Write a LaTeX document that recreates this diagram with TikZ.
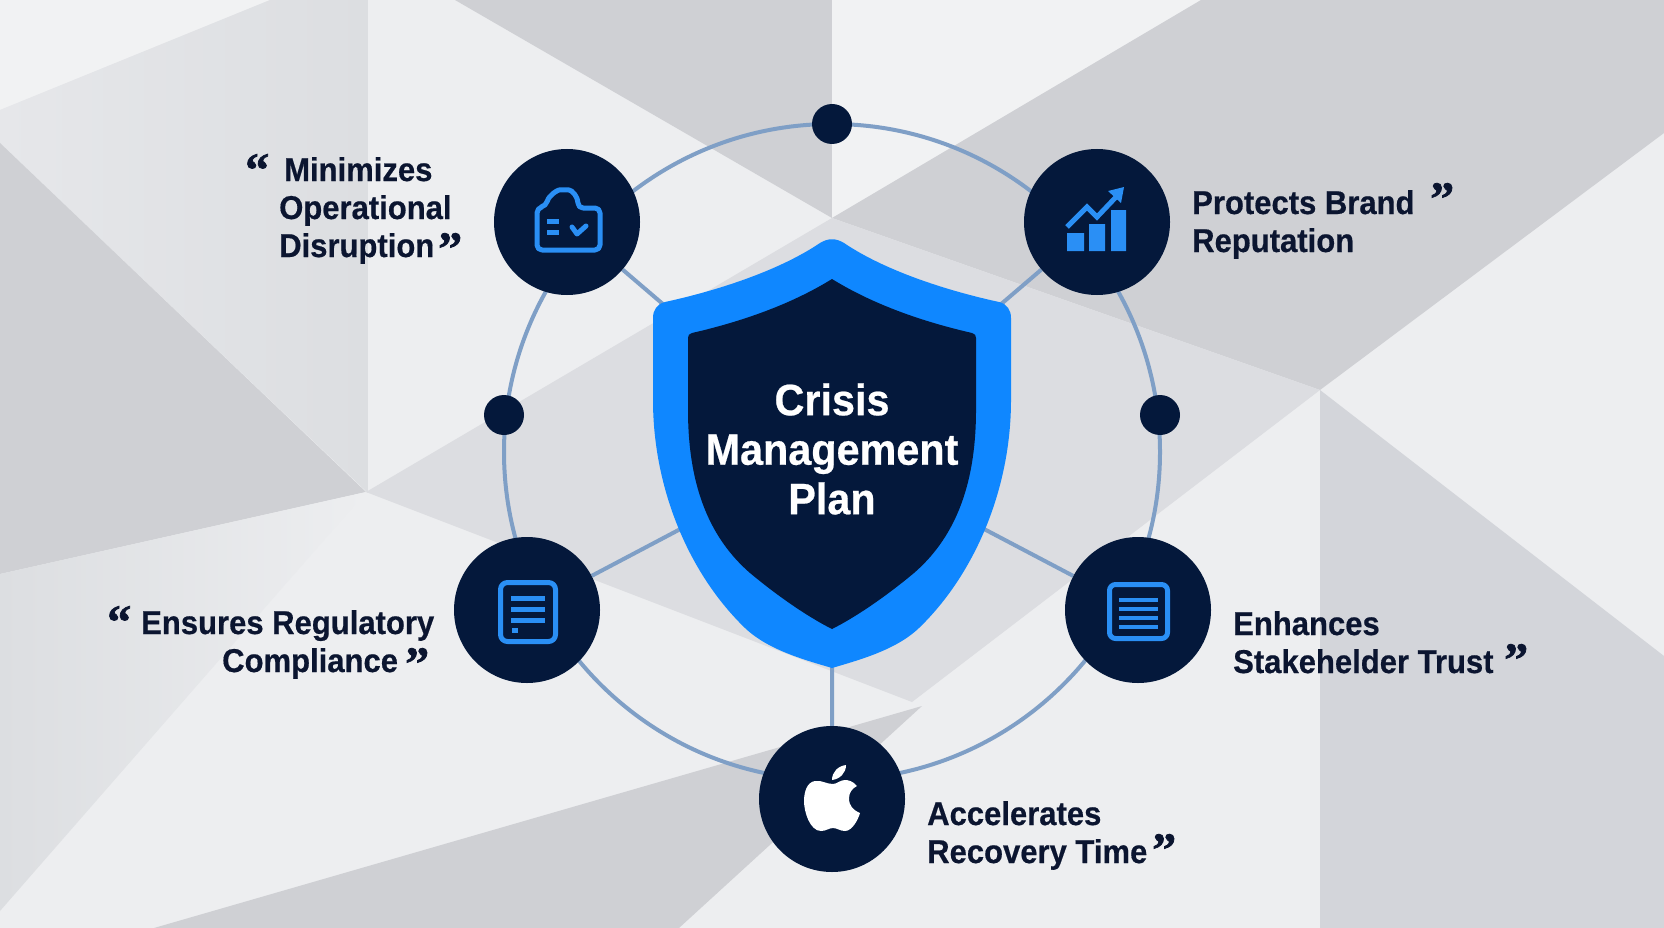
\documentclass[tikz,border=0pt]{standalone}
\usepackage{fontspec}
\setmainfont[FakeStretch=0.94,BoldFeatures={FakeBold=0.5}]{Liberation Sans}
\newfontfamily\quotefont[BoldFeatures={FakeBold=1.5}]{Liberation Serif}
\usetikzlibrary{backgrounds}
\definecolor{navy}{HTML}{04183B}
\definecolor{inktext}{HTML}{0B1530}
\definecolor{shieldblue}{HTML}{0F87FF}
\definecolor{iconblue}{HTML}{2A8FF5}
\definecolor{ringblue}{HTML}{7F9FC6}
\definecolor{facetbase}{HTML}{EDEEF0}
\definecolor{facetpale}{HTML}{F1F2F3}
\definecolor{facetsoft}{HTML}{E6E7EA}
\definecolor{facetsoftb}{HTML}{DCDEE1}
\definecolor{facetmid}{HTML}{DCDDE1}
\definecolor{facetcool}{HTML}{D3D5DA}
\definecolor{facetdark}{HTML}{CFD0D4}

\begin{document}
\begin{tikzpicture}[x=1pt,y=-1pt]
    % `hub' is used for the five round icon holders, `dot' for the small ones on the ring.
    % `caption' and `quotemark' set the texts beside the hubs.
    \tikzstyle{hub} = [draw=none,fill=navy,shape=circle,minimum size=146pt,inner sep=0pt]
    \tikzstyle{dot} = [draw=none,fill=navy,shape=circle,minimum size=40pt,inner sep=0pt]
    \tikzstyle{caption} = [text=inktext,align=left,inner sep=0pt,anchor=base west,font=\fontsize{33}{38}\selectfont\bfseries]
    \tikzstyle{quotemark} = [text=inktext,inner sep=0pt,anchor=base west,font=\fontsize{48}{48}\selectfont\quotefont\bfseries]
    \tikzstyle{link} = [draw=ringblue,line width=4pt]
    \tikzstyle{iconline} = [draw=iconblue,line width=5pt,line cap=round,line join=round]
    \useasboundingbox (0,0) rectangle (1664,928);
    %
    \node[hub] (n0) at (567,222) {};
    \node[hub] (n1) at (1097,222) {};
    \node[hub] (n2) at (527,610) {};
    \node[hub] (n3) at (1138,610) {};
    \node[hub] (n4) at (832,799) {};
    \node[dot] (d0) at (832,124) {};
    \node[dot] (d1) at (504,415) {};
    \node[dot] (d2) at (1160,415) {};

    % Shield, outer then inner.
    \fill[shieldblue] (820,243) .. controls (780,270) and (720,290) .. (665,302)
        .. controls (657,304) and (653,310) .. (653,318) -- (653,400)
        .. controls (653,490) and (690,575) .. (745,628)
        .. controls (768,650) and (805,660) .. (832,668)
        .. controls (859,660) and (896,650) .. (919,628)
        .. controls (974,575) and (1011,490) .. (1011,400) -- (1011,318)
        .. controls (1011,310) and (1007,304) .. (999,302)
        .. controls (944,290) and (884,270) .. (844,243)
        .. controls (836,238) and (828,238) .. (820,243) -- cycle;
    \fill[navy] (832,279) .. controls (790,305) and (740,322) .. (692,333)
        .. controls (689,334) and (688,335) .. (688,338) -- (688,410)
        .. controls (688,490) and (712,540) .. (750,573)
        .. controls (780,598) and (810,618) .. (832,629)
        .. controls (854,618) and (884,598) .. (914,573)
        .. controls (952,540) and (976,490) .. (976,410) -- (976,338)
        .. controls (976,335) and (975,334) .. (972,333)
        .. controls (924,322) and (874,305) .. (832,279) -- cycle;
    \node[text=white,align=center,inner sep=0pt,font=\fontsize{44}{49.5}\selectfont\bfseries] (shield) at (832,449) {Crisis\\Management\\Plan};

    % Icon of the top left hub.
    \draw[iconline,rounded corners=5pt] (537,250) -- (537,208) -- (546,206)
        .. controls (549,195) and (558,190) .. (564,190)
        .. controls (572,190) and (578,197) .. (578,208) -- (600,208) -- (600,250) -- cycle;
    \draw[iconline,line cap=butt] (547,221) -- (559,221) (547,232) -- (559,232);
    \draw[iconline] (572,227) -- (577,234) -- (586,226);
    % Icon of the top right hub.
    \fill[iconblue] (1067,233) rectangle (1084,251) (1089,224) rectangle (1105,251) (1111,210) rectangle (1126,251);
    \draw[iconline,line cap=butt,line join=miter] (1067,227) -- (1087,207) -- (1097,217) -- (1116,197);
    \fill[iconblue] (1124,187) -- (1108,191) -- (1121,203) -- cycle;
    % Icon of the left hub.
    \draw[iconline,rounded corners=7pt] (500.5,582.5) rectangle (555.5,641.5);
    \draw[iconline,line cap=butt] (511,598) -- (545,598) (511,609) -- (545,609) (511,620) -- (545,620) (512,630) -- (518,630);
    % Icon of the right hub.
    \draw[iconline,rounded corners=6pt] (1109.5,584.5) rectangle (1167.5,638.5);
    \draw[iconline,line width=4pt,line cap=butt] (1119,600) -- (1158,600) (1119,609) -- (1158,609) (1119,618) -- (1158,618) (1119,627) -- (1158,627);
    % Icon of the bottom hub.
    \fill[white] (833,784) .. controls (826,784) and (822,780) .. (815,781)
        .. controls (807,782) and (804,792) .. (804,801)
        .. controls (804,812) and (810,831) .. (821,831)
        .. controls (826,831) and (829,828) .. (833,828)
        .. controls (837,828) and (840,831) .. (845,831)
        .. controls (852,831) and (858,820) .. (860,813)
        .. controls (853,810) and (849,806) .. (849,798)
        .. controls (849,792) and (853,788) .. (857,786)
        .. controls (853,781) and (848,780) .. (845,780)
        .. controls (840,780) and (837,784) .. (833,784) -- cycle;
    \fill[white] (832,780) .. controls (832,772) and (838,766) .. (846,765)
        .. controls (846,773) and (840,779) .. (832,780) -- cycle;

    % Captions, placed by their last line.
    \node[caption] (t0) at (279,257) {\hspace*{5pt}Minimizes\\Operational\\Disruption};
    \node[caption] (t1) at (1192,252) {Protects Brand\\Reputation};
    \node[caption] (t2) at (141,672) {Ensures Regulatory\\\hspace*{81pt}Compliance};
    \node[caption] (t3) at (1233,673) {Enhances\\Stakehelder Trust};
    \node[caption] (t4) at (927,863) {Accelerates\\Recovery Time};
    \node[quotemark] (q0) at (245,186) {“};
    \node[quotemark] (q1) at (438,265) {”};
    \node[quotemark] (q2) at (1430,215) {”};
    \node[quotemark] (q3) at (107,638) {“};
    \node[quotemark] (q4) at (405,680) {”};
    \node[quotemark] (q5) at (1504,676) {”};
    \node[quotemark] (q6) at (1152,866) {”};

    \begin{pgfonlayer}{background}
        % Draw the paper facets.
        \fill[facetbase] (0,0) rectangle (1664,928);
        \fill[facetpale] (0,0) -- (270,0) -- (0,110) -- cycle;
        \path[left color=facetsoft,right color=facetsoftb] (0,110) -- (270,0) -- (368,0) -- (368,493) -- (0,143) -- cycle;
        \fill[facetdark] (0,143) -- (366,492) -- (0,574) -- cycle;
        \path[left color=facetsoftb,right color=facetbase] (0,574) -- (366,492) -- (0,911) -- cycle;
        \fill[facetdark] (455,0) -- (832,0) -- (832,218) -- cycle;
        \fill[facetpale] (832,0) -- (1201,0) -- (832,218) -- cycle;
        \fill[facetdark] (832,218) -- (1201,0) -- (1664,0) -- (1664,133) -- (1320,390) -- cycle;
        \fill[facetmid] (832,218) -- (1320,390) -- (912,702) -- (366,492) -- cycle;
        \fill[facetcool] (1320,390) -- (1664,656) -- (1664,928) -- (1320,928) -- cycle;
        \fill[facetdark] (154,928) -- (922,706) -- (679,928) -- cycle;
        % Draw lines.
        \node[link,shape=circle,minimum size=656pt,inner sep=0pt] (ring) at (832,452) {};
        \draw[link] (n0) -- (shield)  (n1) -- (shield)
                    (n2) -- (shield)  (n3) -- (shield)  (n4) -- (shield);
    \end{pgfonlayer}
\end{tikzpicture}
\end{document}
